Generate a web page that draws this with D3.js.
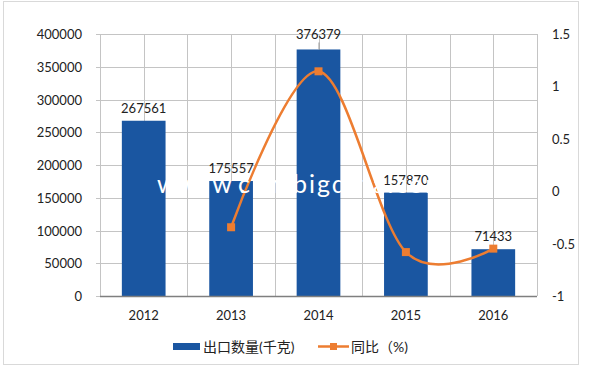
<!DOCTYPE html>
<html lang="zh">
<head>
<meta charset="UTF-8">
<title>出口数量</title>
<style>
  body { margin: 0; background: #fff; }
  svg text { font-family: Lato, "Noto Sans CJK SC", sans-serif; fill: #222; }
</style>
</head>
<body>
<div class="chart"></div>
<script src="https://d3js.org/d3.v7.min.js"></script>
<script>
    var w = 600, h = 369;

    var years = ["2012", "2013", "2014", "2015", "2016"];
    var exportQty = [267561, 175557, 376379, 157870, 71433];
    // 同比 has no value for the first year
    var yoyYears = ["2013", "2014", "2015", "2016"];
    var yoy = [-0.344, 1.144, -0.581, -0.548];
    var leftTicks = [0, 50000, 100000, 150000, 200000, 250000, 300000, 350000, 400000];
    var rightTicks = [-1, -0.5, 0, 0.5, 1, 1.5];

    // "top" is taken by window.top, so prefix these
    var pLeft = 100, pRight = 537, pTop = 34, pBottom = 296;
    var blue = "#1a56a1", orange = "#ed7d31";

    var svg = d3.select(".chart").append("svg")
        .attr("width", w)
        .attr("height", h);

    // outer frame
    svg.append("rect")
        .attr("x", 3.5).attr("y", 1.5)
        .attr("width", 575).attr("height", 363)
        .attr("fill", "none").attr("stroke", "#d9d9d9");

    var x = d3.scaleBand().domain(years).range([pLeft, pRight])
        .paddingInner(0.5).paddingOuter(0.25);
    var y = d3.scaleLinear().domain([0, 400000]).range([pBottom, pTop]);
    var y2 = d3.scaleLinear().domain([-1, 1.5]).range([pBottom, pTop]);

    // grid
    var vLines = [];
    years.forEach(function(d) {
        vLines.push(x(d) - x.step() * 0.25);
        vLines.push(x(d) + x.bandwidth() / 2);
    });
    vLines.push(pRight);

    svg.append("g").selectAll("line").data(leftTicks).enter().append("line")
        .attr("x1", pLeft - 4).attr("x2", pRight)
        .attr("y1", function(d) { return Math.round(y(d)) + 0.5; })
        .attr("y2", function(d) { return Math.round(y(d)) + 0.5; })
        .attr("stroke", "#c4c4c4");
    svg.append("g").selectAll("line").data(vLines).enter().append("line")
        .attr("x1", function(d) { return Math.round(d) + 0.5; })
        .attr("x2", function(d) { return Math.round(d) + 0.5; })
        .attr("y1", pTop).attr("y2", pBottom)
        .attr("stroke", "#c4c4c4");

    // left axis labels
    svg.append("g").selectAll("text").data(leftTicks).enter().append("text")
        .attr("x", 82).attr("y", function(d) { return y(d) + 5; })
        .attr("text-anchor", "end").style("font-size", "13px")
        .text(function(d) { return d; });

    // right axis labels
    svg.append("g").selectAll("text").data(rightTicks).enter().append("text")
        .attr("x", 552).attr("y", function(d) { return y2(d) + 5; })
        .style("font-size", "13px")
        .text(function(d) { return d; });

    // bars
    svg.append("g").selectAll("rect").data(exportQty).enter().append("rect")
        .attr("x", function(d, i) { return x(years[i]); })
        .attr("y", function(d) { return y(d); })
        .attr("width", x.bandwidth())
        .attr("height", function(d) { return pBottom - y(d); })
        .attr("fill", blue);

    // bottom axis line
    svg.append("line")
        .attr("x1", pLeft).attr("x2", pRight)
        .attr("y1", pBottom + 0.5).attr("y2", pBottom + 0.5)
        .attr("stroke", "#7f7f7f").attr("stroke-width", 1.5);

    // x labels
    svg.append("g").selectAll("text").data(years).enter().append("text")
        .attr("x", function(d) { return x(d) + x.bandwidth() / 2; })
        .attr("y", 320)
        .attr("text-anchor", "middle").style("font-size", "13px")
        .text(function(d) { return d; });

    // line
    var line = d3.line()
        .x(function(d, i) { return x(yoyYears[i]) + x.bandwidth() / 2; })
        .y(function(d) { return y2(d); })
        .curve(d3.curveCardinal.tension(0));
    svg.append("path")
        .datum(yoy)
        .attr("d", line)
        .attr("fill", "none")
        .attr("stroke", orange)
        .attr("stroke-width", 2.5);
    svg.append("g").selectAll("rect").data(yoy).enter().append("rect")
        .attr("x", function(d, i) { return x(yoyYears[i]) + x.bandwidth() / 2 - 4; })
        .attr("y", function(d) { return y2(d) - 4; })
        .attr("width", 8).attr("height", 8)
        .attr("fill", orange);

    // data labels
    var maxV = d3.max(exportQty);
    svg.append("g").selectAll("text").data(exportQty).enter().append("text")
        .attr("x", function(d, i) { return x(years[i]) + x.bandwidth() / 2; })
        .attr("y", function(d) { return d === maxV ? y(d) - 10 : y(d) - 8; })
        .attr("text-anchor", "middle").style("font-size", "13px")
        .text(function(d) { return d; });
    svg.append("line")
        .attr("x1", x(years[exportQty.indexOf(maxV)]) + x.bandwidth() / 2 + 0.5)
        .attr("x2", x(years[exportQty.indexOf(maxV)]) + x.bandwidth() / 2 + 0.5)
        .attr("y1", y(maxV) - 7).attr("y2", y(maxV))
        .attr("stroke", "#999");

    // watermark (white, only shows over the bars)
    var wm = svg.append("text")
        .attr("y", 193)
        .style("font-size", "25px")
        .style("fill", "#fff");
    wm.append("tspan").attr("x", 157).style("letter-spacing", "8px").text("www.");
    wm.append("tspan").attr("x", 238).text("c");
    wm.append("tspan").attr("x", 266).text("n");
    wm.append("tspan").attr("x", 293).style("letter-spacing", "2px").text("bigdata.com");

    // legend
    var lg = svg.append("g");
    lg.append("rect")
        .attr("x", 173).attr("y", 343).attr("width", 27).attr("height", 7)
        .attr("fill", blue);
    lg.append("text")
        .attr("x", 203).attr("y", 352)
        .style("font-size", "14px")
        .text("出口数量(千克)");
    lg.append("line")
        .attr("x1", 318).attr("x2", 349).attr("y1", 346.5).attr("y2", 346.5)
        .attr("stroke", orange).attr("stroke-width", 2.5);
    lg.append("rect")
        .attr("x", 330).attr("y", 343).attr("width", 7).attr("height", 7)
        .attr("fill", orange);
    lg.append("text")
        .attr("x", 351).attr("y", 352)
        .style("font-size", "14px")
        .text("同比（%)");
</script>
</body>
</html>
